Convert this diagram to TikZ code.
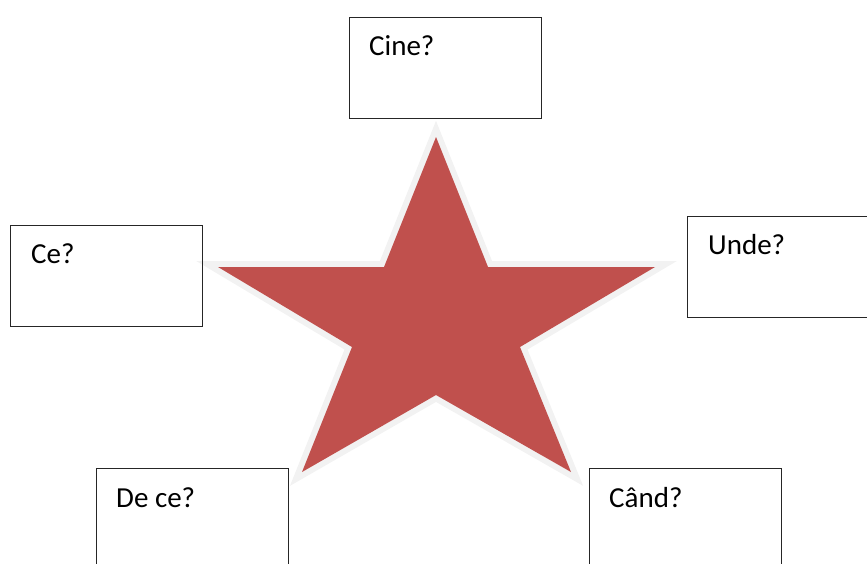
\documentclass[tikz,border=0pt]{standalone}
\usepackage{fontspec}
\setmainfont{Carlito}
\definecolor{starred}{HTML}{C0504D}
\definecolor{starrim}{HTML}{F2F2F2}
\begin{document}
\begin{tikzpicture}[x=1pt,y=-1pt,
  qbox/.style={draw=black!85,line width=0.9pt,rectangle,minimum width=192pt,minimum height=101pt,inner sep=0pt,anchor=north west},
  qtext/.style={anchor=base west,inner sep=0pt,font=\fontsize{29}{31}\selectfont}]
\useasboundingbox (0,0) rectangle (867,563);
\clip (0,0) rectangle (867,563);
% star
\coordinate (s1) at (436,137);
\coordinate (s2) at (488,267);
\coordinate (s3) at (655,267);
\coordinate (s4) at (520,347);
\coordinate (s5) at (571,472);
\coordinate (s6) at (436,395);
\coordinate (s7) at (302,472);
\coordinate (s8) at (352,347);
\coordinate (s9) at (218,267);
\coordinate (s10) at (384,267);
\draw[starrim,line width=12pt,line join=miter,miter limit=10] (s1)--(s2)--(s3)--(s4)--(s5)--(s6)--(s7)--(s8)--(s9)--(s10)--cycle;
\fill[starred] (s1)--(s2)--(s3)--(s4)--(s5)--(s6)--(s7)--(s8)--(s9)--(s10)--cycle;
% boxes
\node[qbox] (bcine) at (349,17) {};
\node[qbox] (bce) at (10,225) {};
\node[qbox,minimum width=200pt] (bunde) at (687,216) {};
\node[qbox] (bdece) at (96,468) {};
\node[qbox] (bcand) at (589,468) {};
% texts
\node[qtext] (tcine) at ([xshift=20pt,yshift=-38pt]bcine.north west) {Cine?};
\node[qtext] (tce) at ([xshift=21pt,yshift=-38pt]bce.north west) {Ce?};
\node[qtext] (tunde) at ([xshift=21pt,yshift=-38pt]bunde.north west) {Unde?};
\node[qtext] (tdece) at ([xshift=20pt,yshift=-39pt]bdece.north west) {De ce?};
\node[qtext] (tcand) at ([xshift=20pt,yshift=-39pt]bcand.north west) {Când?};
\end{tikzpicture}
\end{document}
